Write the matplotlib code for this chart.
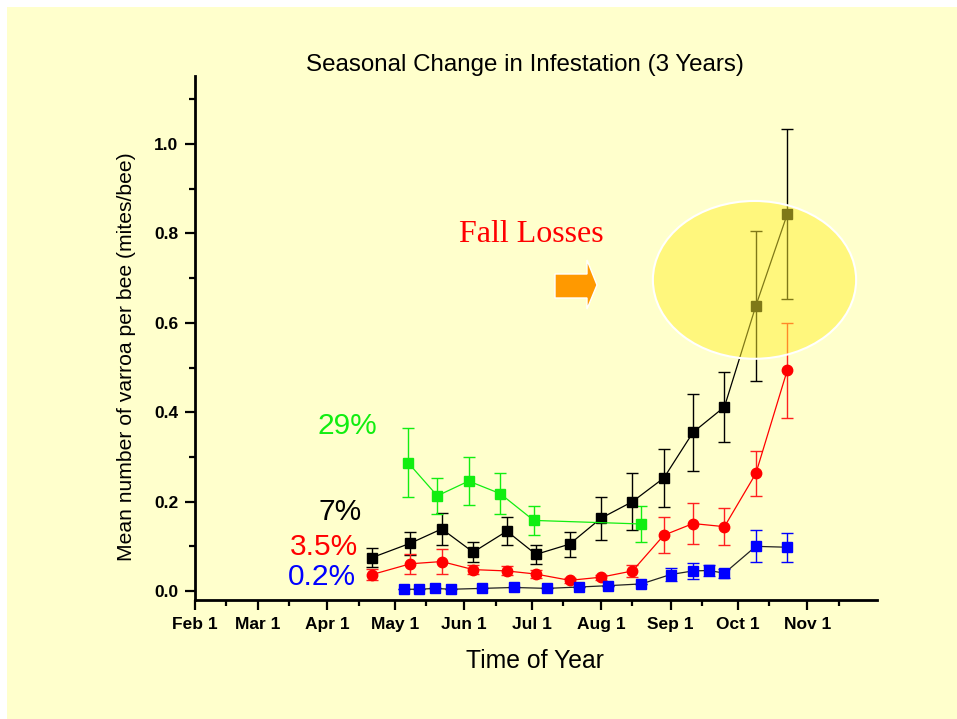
import matplotlib
matplotlib.use("Agg")
import matplotlib.pyplot as plt
from matplotlib.patches import Ellipse, Polygon, Rectangle
import pandas as pd

plt.rcParams['font.family'] = ['Liberation Sans', 'DejaVu Sans']

# day of year for each sample
month_labels = ['Feb 1', 'Mar 1', 'Apr 1', 'May 1', 'Jun 1', 'Jul 1',
                'Aug 1', 'Sep 1', 'Oct 1', 'Nov 1']

green_days = [127, 140, 154, 168, 183, 231]
green_vals = [0.287, 0.213, 0.246, 0.218, 0.158, 0.150]
green_err = [0.077, 0.040, 0.054, 0.045, 0.032, 0.040]

black_days = [111, 128, 142, 156, 171, 184, 199, 213, 227, 241, 254, 268, 282, 296]
black_vals = [0.075, 0.107, 0.139, 0.087, 0.134, 0.082, 0.105, 0.163, 0.200,
              0.253, 0.355, 0.412, 0.638, 0.843]
black_err = [0.021, 0.026, 0.035, 0.022, 0.032, 0.022, 0.028, 0.048, 0.063,
             0.064, 0.086, 0.078, 0.168, 0.190]

red_days = [111, 128, 142, 156, 171, 184, 199, 213, 227, 241, 254, 268, 282, 296]
red_vals = [0.037, 0.061, 0.066, 0.048, 0.045, 0.038, 0.024, 0.031, 0.045,
            0.125, 0.151, 0.144, 0.263, 0.494]
red_err = [0.013, 0.022, 0.028, 0.010, 0.010, 0.008, 0.005, 0.006, 0.014,
           0.040, 0.045, 0.042, 0.050, 0.106]

blue_days = [125, 132, 139, 146, 160, 174, 189, 203, 216, 231, 244, 254, 261, 268, 282, 296]
blue_vals = [0.004, 0.004, 0.006, 0.004, 0.006, 0.008, 0.006, 0.009, 0.012,
             0.016, 0.037, 0.045, 0.046, 0.040, 0.100, 0.098]
blue_err = [0, 0, 0, 0, 0, 0, 0, 0, 0, 0, 0.015, 0.018, 0.012, 0.010, 0.036, 0.032]

pct_labels = ['29%', '7%', '3.5%', '0.2%']

W, H = 957, 719
fig = plt.figure(figsize=(W / 100, H / 100), dpi=100, facecolor='white')
fig.patches.append(Rectangle((7 / W, 0), 1, 1 - 7 / H, transform=fig.transFigure,
                             facecolor='#FFFFCC', edgecolor='none', zorder=-10))

ax = fig.add_axes([195 / W, 1 - 600 / H, (877 - 195) / W, (600 - 76) / H])
ax.set_facecolor('none')
ax.set_zorder(1)

month_starts = [pd.Timestamp(2001, m, 1).dayofyear for m in range(2, 12)]
mid_months = [pd.Timestamp(2001, m, 15).dayofyear for m in range(2, 12)]

ax.errorbar(black_days, black_vals, yerr=black_err, fmt='s-', color='black',
            ms=7, lw=0.9, elinewidth=1, capsize=4, capthick=1, zorder=3)
ax.errorbar(red_days, red_vals, yerr=red_err, fmt='o-', color='red',
            ecolor='#FF2020', ms=7.5, lw=0.9, elinewidth=1, capsize=4, capthick=1, zorder=3)
ax.errorbar(green_days, green_vals, yerr=green_err, fmt='s-', color='#11EE11',
            ms=7, lw=0.9, elinewidth=1, capsize=4, capthick=1, zorder=3)
ax.errorbar(blue_days, blue_vals, yerr=blue_err, fmt='s-', color='#222222',
            mfc='blue', mec='blue', ecolor='blue', ms=7, lw=0.9, elinewidth=1,
            capsize=4, capthick=1, zorder=3)

# highlight circle over the fall points
ax.add_patch(Ellipse((281.4, 0.696), 90.6, 0.353, facecolor='#FFF030',
                     edgecolor='none', alpha=0.5, zorder=5))
ax.add_patch(Ellipse((281.4, 0.696), 90.6, 0.353, facecolor='none',
                     edgecolor='white', lw=1.5, zorder=5))

ax.set_xlim(32, 336)
ax.set_ylim(-0.02, 1.152)
ax.set_xticks(month_starts)
ax.set_xticklabels(month_labels)
ax.set_xticks(mid_months, minor=True)
ax.set_yticks([0.0, 0.2, 0.4, 0.6, 0.8, 1.0])
ax.set_yticklabels(['0.0', '0.2', '0.4', '0.6', '0.8', '1.0'])
ax.set_yticks([0.1, 0.3, 0.5, 0.7, 0.9, 1.1], minor=True)
for s in ['top', 'right']:
    ax.spines[s].set_visible(False)
for s in ['left', 'bottom']:
    ax.spines[s].set_linewidth(2)
ax.tick_params(which='major', direction='out', length=7, width=1.6,
               labelsize=12.5, pad=5)
ax.tick_params(which='minor', direction='out', length=4, width=1.6)
for lab in ax.get_xticklabels() + ax.get_yticklabels():
    lab.set_fontweight('bold')

colors = ['#11EE11', 'black', 'red', 'blue']
px = [(347, 426), (340, 512), (324, 547), (322, 577)]
for lab, c, (x, y) in zip(pct_labels, colors, px):
    fig.text(x / W, 1 - y / H, lab, color=c, fontsize=21.5, ha='center', va='center')

fig.text(531 / W, 1 - 235 / H, 'Fall Losses', color='red', fontsize=23,
         family='Liberation Serif', ha='center', va='center')

arrow = [(555, 274), (587, 274), (587, 260), (597, 285), (587, 309),
         (587, 298), (555, 298)]
fig.patches.append(Polygon([(x / W, 1 - y / H) for x, y in arrow], closed=True,
                           transform=fig.transFigure, facecolor='#FF9900',
                           edgecolor='white', lw=1, zorder=5))

fig.text(525 / W, 1 - 65 / H, 'Seasonal Change in Infestation (3 Years)',
         fontsize=17.4, ha='center', va='center')
fig.text(535 / W, 1 - 661 / H, 'Time of Year', fontsize=17.8, ha='center', va='center')
fig.text(126 / W, 1 - 357 / H, 'Mean number of varroa per bee (mites/bee)',
         fontsize=15.2, rotation=90, ha='center', va='center')

fig.savefig('out.png', dpi=100, facecolor=fig.get_facecolor())
